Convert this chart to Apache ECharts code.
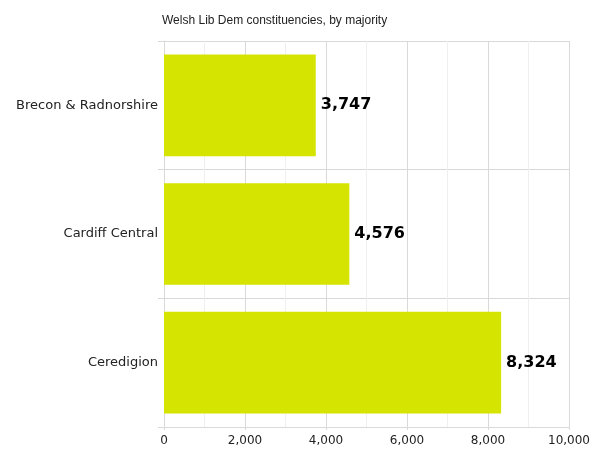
<!DOCTYPE html>
<html><head><meta charset="utf-8">
<script src="https://cdn.jsdelivr.net/npm/echarts@6/dist/echarts.min.js"></script>
<style>html,body{margin:0;padding:0;background:#fff}#c{width:600px;height:463px}</style>
</head><body><div id="c"></div>
<script>
const categories = ["Brecon & Radnorshire", "Cardiff Central", "Ceredigion"];
const majorities = [3747, 4576, 8324];
const titleText = "Welsh Lib Dem constituencies, by majority";

const chart = echarts.init(document.getElementById('c'));
const fmt = v => v.toLocaleString('en-US');
chart.setOption({
  animation: false,
  title: { text: titleText, left: 157, top: 10,
    textStyle: { fontFamily: 'Liberation Sans', fontSize: 12, fontWeight: 'normal', color: '#222' } },
  grid: { left: 164, right: 31, top: 41, bottom: 36, containLabel: false },
  xAxis: {
    type: 'value', min: 0, max: 10000, interval: 2000,
    axisLine: { show: false },
    axisTick: { show: true, length: 3, lineStyle: { color: '#d9d9d9' } },
    axisLabel: { formatter: v => fmt(v), color: '#222', fontFamily: 'DejaVu Sans', fontSize: 12, margin: 8 },
    splitLine: { show: true, lineStyle: { color: '#d9d9d9', width: 1 } },
    minorTick: { show: false, splitNumber: 2 },
    minorSplitLine: { show: true, lineStyle: { color: '#efefef', width: 1 } }
  },
  yAxis: {
    type: 'category', data: categories, inverse: true,
    axisLine: { show: true, lineStyle: { color: '#d9d9d9' } },
    axisTick: { show: true, length: 6, lineStyle: { color: '#d9d9d9' } },
    axisLabel: { color: '#222', fontFamily: 'DejaVu Sans', fontSize: 13, margin: 6 },
    splitLine: { show: true, lineStyle: { color: '#d9d9d9' } }
  },
  series: [{
    type: 'bar', data: majorities, barCategoryGap: '21%',
    itemStyle: { color: '#d5e400' },
    label: { show: true, position: 'right', distance: 5, formatter: p => fmt(p.value),
      fontFamily: 'DejaVu Sans', fontWeight: 'bold', fontSize: 16, color: '#000' }
  }]
});
</script></body></html>
